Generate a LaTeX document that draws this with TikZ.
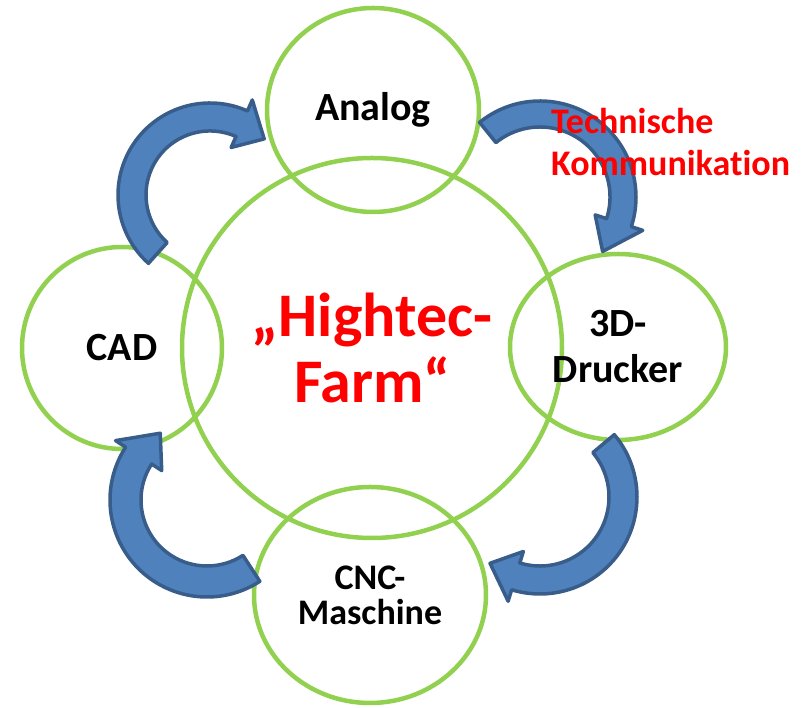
\documentclass[tikz,border=0pt]{standalone}
\usepackage{fontspec}
\setmainfont{Carlito}[Ligatures=NoCommon]
\usetikzlibrary{shapes.geometric}
\definecolor{hellgruen}{HTML}{92D050}
\definecolor{pfeilblau}{HTML}{4F81BD}
\definecolor{pfeilrand}{HTML}{385D8A}
\definecolor{rot}{HTML}{FF0000}
\tikzset{
  kreis/.style={draw=hellgruen, line width=4.5pt, ellipse, inner sep=0pt, align=center},
  pfeil/.style={draw=pfeilrand, fill=pfeilblau, line width=3.5pt, line join=round},
}
% Bogenpfeil: Mitte x, Mitte y, r innen, R aussen, Anfang, Ende, Spitze
\newcommand{\bogenpfeil}[7]{%
  \draw[pfeil, shift={(#1,#2)}] (#5:#4) arc[start angle=#5, end angle=#6, radius=#4]
    -- ({#6}:{#4+12}) -- ({#7}:{(#3+#4)/2}) -- ({#6}:{#3-12}) -- (#6:#3)
    arc[start angle=#6, end angle=#5, radius=#3] -- cycle;}
\begin{document}
\begin{tikzpicture}[x=1pt,y=1pt]
\useasboundingbox (0,0) rectangle (812,708);
\node[kreis, circle, minimum size=380pt, font=\bfseries\fontsize{62}{66}\selectfont, text=rot] (farm) at (372,360) {„Hightec-\\Farm“};
\node[kreis, minimum width=212pt, minimum height=204pt, font=\bfseries\fontsize{40}{46}\selectfont] (analog) at (373,598) {Analog};
\node[kreis, minimum width=200pt, minimum height=202pt, font=\bfseries\fontsize{40}{46}\selectfont] (cad) at (122,360) {CAD};
\node[kreis, minimum width=216pt, minimum height=186pt, font=\bfseries\fontsize{40}{46}\selectfont] (drucker) at (618,361) {3D-\\Drucker};
\node[kreis, minimum width=232pt, minimum height=216pt, font=\bfseries\fontsize{36}{35}\selectfont] (cnc) at (370,113) {CNC-\\Maschine};
% Pfeile im Uhrzeigersinn
\bogenpfeil{210}{513}{64}{92}{228}{66}{46}
\bogenpfeil{540}{511}{70}{96}{129}{-18}{-41}
\bogenpfeil{540}{211}{69}{97}{40}{-107}{-127}
\bogenpfeil{207}{208}{66}{97}{-57}{-213}{-235}
\node[align=left, anchor=west, inner sep=0pt, text=rot, font=\bfseries\fontsize{36}{42}\selectfont] (technik) at (551,566) {Technische\\Kommunikation};
\end{tikzpicture}
\end{document}
